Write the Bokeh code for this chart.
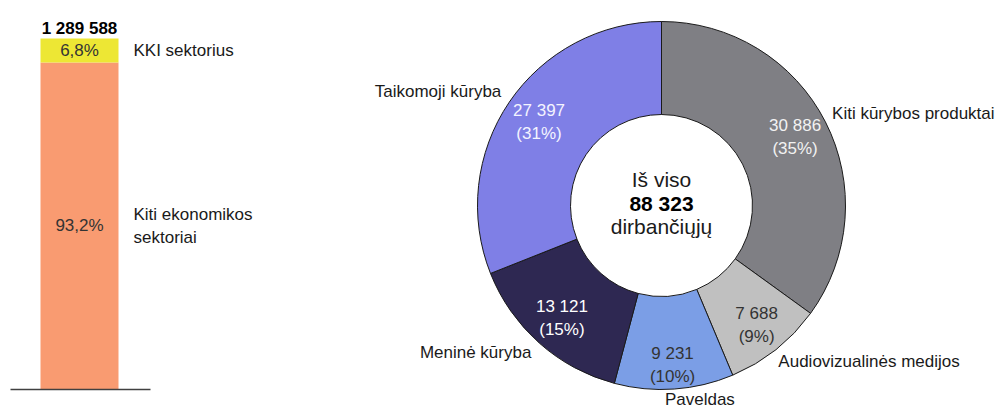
import math
from bokeh.plotting import figure
from bokeh.layouts import row
from bokeh.models import Range1d, ColumnDataSource
from bokeh.core.properties import value
from bokeh.embed import file_html
from bokeh.resources import INLINE

# ---- data ----
bar_total_label = "1 289 588"
bar_categories = ["Kiti ekonomikos\nsektoriai", "KKI sektorius"]
bar_shares = [93.2, 6.8]
bar_share_labels = ["93,2%", "6,8%"]

donut_categories = ["Kiti kūrybos produktai", "Audiovizualinės medijos", "Paveldas",
                    "Meninė kūryba", "Taikomoji kūryba"]
donut_values = [30886, 7688, 9231, 13121, 27397]
donut_value_labels = ["30 886", "7 688", "9 231", "13 121", "27 397"]
donut_pct_labels = ["(35%)", "(9%)", "(10%)", "(15%)", "(31%)"]
donut_total_label = "88 323"

# ---- styles ----
FONT = value("Liberation Sans")
bar_colors = ["#F99B71", "#EDE734"]
donut_colors = ["#7F7F84", "#C0C0C0", "#7B9EE6", "#2E2852", "#7F7FE6"]
donut_text_colors = ["#F2F2F2", "#333333", "#333333", "#FFFFFF", "#F4F4FF"]
inner_label_r = [150, 153, 160, 150, 148]
outer_label_r = [196, 196, 194, 196, 196]
outer_align = ["left", "left", "left", "right", "right"]
outer_dx = [-4, -5, -10, 0, 2]
outer_dy = [-3, 2, 0, 0, -4]

# ---- left: stacked bar ----
W1, H = 328, 409
p1 = figure(width=W1, height=H, output_backend="svg", toolbar_location=None,
            x_range=Range1d(0, W1), y_range=Range1d(-5.698, 110.83),
            min_border=0, outline_line_color=None)
p1.axis.visible = False
p1.grid.visible = False

bottoms, tops = [], []
acc = 0.0
for s in bar_shares:
    bottoms.append(acc)
    acc += s
    tops.append(acc)
mids = [(b + t) / 2 for b, t in zip(bottoms, tops)]
bx = 79
src1 = ColumnDataSource(dict(x=[bx] * 2, bottom=bottoms, top=tops, color=bar_colors,
                             mid=mids, lab=bar_share_labels, cat=bar_categories,
                             lx=[133] * 2))
p1.vbar(x="x", bottom="bottom", top="top", width=78, fill_color="color",
        line_color=None, source=src1)
p1.text(x="x", y="mid", text="lab", source=src1, text_font=FONT,
        text_font_size="17px", text_color="#333333", text_align="center",
        text_baseline="middle")
p1.text(x="lx", y="mid", text="cat", source=src1, text_font=FONT,
        text_font_size="17px", text_color="#1A1A1A", text_align="left",
        text_baseline="middle", text_line_height=1.2)
p1.text(x=[bx], y=[tops[-1]], text=[bar_total_label], text_font=FONT,
        text_font_size="17px", text_font_style="bold", text_color="#000000",
        text_align="center", text_baseline="bottom", y_offset=-1)
p1.segment(x0=[10], y0=[0], x1=[150], y1=[0], line_color="#404040", line_width=1.5)

# ---- right: donut ----
W2 = 675
p2 = figure(width=W2, height=H, output_backend="svg", toolbar_location=None,
            x_range=Range1d(0, W2), y_range=Range1d(0, H),
            min_border=0, outline_line_color=None)
p2.axis.visible = False
p2.grid.visible = False

cx, cy = 333, 204
R_in, R_out = 91, 184
total = sum(donut_values)
starts, ends, midang = [], [], []
c = 0.0
for v in donut_values:
    a0 = math.pi / 2 - 2 * math.pi * c / total
    c += v
    a1 = math.pi / 2 - 2 * math.pi * c / total
    starts.append(a0)
    ends.append(a1)
    midang.append((a0 + a1) / 2)

src2 = ColumnDataSource(dict(start=starts, end=ends, color=donut_colors))
p2.annular_wedge(x=cx, y=cy, inner_radius=R_in, outer_radius=R_out,
                 start_angle="start", end_angle="end", direction="clock",
                 fill_color="color", line_color="#1A1A1A", line_width=1, source=src2)

ix = [cx + r * math.cos(a) for r, a in zip(inner_label_r, midang)]
iy = [cy + r * math.sin(a) for r, a in zip(inner_label_r, midang)]
inner_text = [f"{v}\n{p}" for v, p in zip(donut_value_labels, donut_pct_labels)]
src3 = ColumnDataSource(dict(x=ix, y=iy, t=inner_text, c=donut_text_colors))
p2.text(x="x", y="y", text="t", text_color="c", source=src3, text_font=FONT,
        text_font_size="17px", text_align="center", text_baseline="middle",
        text_line_height=1.2)

ox = [cx + r * math.cos(a) for r, a in zip(outer_label_r, midang)]
oy = [cy + r * math.sin(a) for r, a in zip(outer_label_r, midang)]
src4 = ColumnDataSource(dict(x=ox, y=oy, t=donut_categories, al=outer_align,
                             dx=outer_dx, dy=outer_dy))
p2.text(x="x", y="y", text="t", text_align="al", x_offset="dx", y_offset="dy",
        source=src4, text_font=FONT, text_font_size="17px", text_color="#1A1A1A",
        text_baseline="middle")

p2.text(x=[cx], y=[cy], text=["Iš viso"], text_font=FONT, text_font_size="21px",
        text_color="#1A1A1A", text_align="center", text_baseline="middle", y_offset=-26)
p2.text(x=[cx], y=[cy], text=[donut_total_label], text_font=FONT, text_font_size="21px",
        text_font_style="bold", text_color="#000000", text_align="center",
        text_baseline="middle", y_offset=-2)
p2.text(x=[cx], y=[cy], text=["dirbančiųjų"], text_font=FONT, text_font_size="21px",
        text_color="#1A1A1A", text_align="center", text_baseline="middle", y_offset=21)

layout = row(p1, p2, spacing=0)
open("out.html", "w").write(file_html(layout, INLINE))
